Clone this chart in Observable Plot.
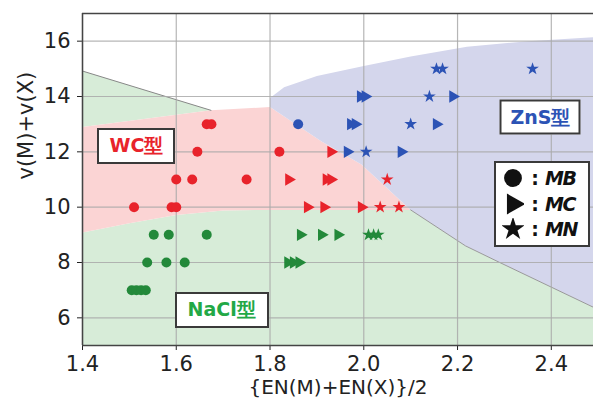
<!DOCTYPE html>
<html><head><meta charset="utf-8">
<script src="https://cdn.jsdelivr.net/npm/d3@7"></script>
<script src="https://cdn.jsdelivr.net/npm/@observablehq/plot@0.6"></script>
<style>
body{margin:0;background:#fff;}
#wrap{position:relative;width:593px;height:409px;overflow:hidden;}
.box{position:absolute;background:#fff;border:2px solid #3a3a3a;font-family:"DejaVu Sans",sans-serif;font-weight:bold;transform:translate(-50%,-50%);display:flex;align-items:center;justify-content:center;box-sizing:border-box;white-space:nowrap;}
.leg{position:absolute;background:#fff;border:2px solid #3a3a3a;box-sizing:border-box;transform:translate(-50%,-50%);font-family:"DejaVu Sans",sans-serif;}
.row{position:absolute;left:0;display:flex;align-items:center;font-size:19px;font-weight:bold;font-style:italic;color:#111;}
</style></head><body><div id="wrap"></div>
<script>
// ---- data: points (EN average, valence sum, anion) per structure type ----
const wcEN    = [1.665,1.675,1.645,1.82,1.60,1.634,1.75,1.51,1.59,1.60, 1.93,1.84,1.92,1.93,1.88,1.915,1.995, 2.05,2.035,2.075];
const wcV     = [13,13,12,12,11,11,11,10,10,10, 12,11,11,11,10,10,10, 11,10,10];
const wcAnion = ["B","B","B","B","B","B","B","B","B","B", "C","C","C","C","C","C","C", "N","N","N"];

const znsEN    = [1.86, 1.993,2.003,2.19,1.972,1.982,2.155,1.965,2.08, 2.14,2.155,2.168,2.36,2.10,2.005];
const znsV     = [13, 14,14,14,13,13,13,12,12, 14,15,15,15,13,12];
const znsAnion = ["B", "C","C","C","C","C","C","C","C", "N","N","N","N","N","N"];

const naclEN    = [1.552,1.584,1.665,1.538,1.579,1.618,1.505,1.515,1.525,1.535, 1.865,1.91,1.945,1.838,1.85,1.862, 2.01,2.021,2.031];
const naclV     = [9,9,9,8,8,8,7,7,7,7, 9,9,9,8,8,8, 9,9,9];
const naclAnion = ["B","B","B","B","B","B","B","B","B","B", "C","C","C","C","C","C", "N","N","N"];

// ---- region boundaries ----
const naclLowEN  = [1.4,1.4,1.5,1.6,1.7,1.8,2.1,2.217,2.29,2.5,2.5];
const naclLowV   = [5,9.08,9.42,9.72,9.88,9.9,9.9,8.6,8.0,6.3,5];
const naclTopEN  = [1.4,1.4,1.674];
const naclTopV   = [12.9,14.92,13.5];
const wcRegEN    = [1.4,1.674,1.8,1.91,1.995,2.1,1.8,1.7,1.6,1.5,1.4];
const wcRegV     = [12.9,13.5,13.62,12.37,11.54,9.9,9.9,9.88,9.72,9.42,9.08];
const znsRegEN   = [1.8,1.8,1.83,1.9,2.0,2.1,2.22,2.35,2.5,2.5,2.29,2.217,2.1,1.995,1.91];
const znsRegV    = [13.62,13.95,14.33,14.74,15.1,15.45,15.8,16.0,16.15,6.3,8.0,8.6,9.9,11.54,12.37];

const xTicks = [1.4,1.6,1.8,2.0,2.2,2.4];
const yTicks = [6,8,10,12,14,16];
const xLabel = "{EN(M)+EN(X)}/2";
const yLabel = "v(M)+v(X)";
const structLabels = ["WC型","ZnS型","NaCl型"];
const structLabelEN = [1.516, 2.378, 1.698];
const structLabelV  = [12.18, 13.23, 6.25];
const legendNames = ["MB","MC","MN"];

const colors = {WC:"#e8232b", ZnS:"#2c53b5", NaCl:"#23893a"};
const fills = {WC:"#fbd4d4", ZnS:"#d4d6ec", NaCl:"#d7ecd8"};
const labelColors = {WC:"#e8232b", ZnS:"#2c53b5", NaCl:"#22a846"};

const pts = [];
wcEN.forEach((x,i)=>pts.push({x, y:wcV[i], a:wcAnion[i], s:"WC"}));
znsEN.forEach((x,i)=>pts.push({x, y:znsV[i], a:znsAnion[i], s:"ZnS"}));
naclEN.forEach((x,i)=>pts.push({x, y:naclV[i], a:naclAnion[i], s:"NaCl"}));
const poly = (xs, ys) => xs.map((x,i)=>({x, y:ys[i]}));

const chart = Plot.plot({
  width: 593, height: 409,
  marginLeft: 82, marginRight: 0, marginTop: 13, marginBottom: 64,
  style: {fontFamily: "DejaVu Sans, sans-serif", fontSize: "21px", color: "#222", background: "#fff"},
  x: {domain: [1.4, 2.49], ticks: xTicks, tickFormat: d3.format(".1f"), label: null, tickSize: 5, tickPadding: 6},
  y: {domain: [5, 17], ticks: yTicks, label: null, tickSize: 5, tickPadding: 7},
  marks: [
    Plot.line(poly(naclLowEN, naclLowV), {x:"x", y:"y", fill: fills.NaCl, stroke: "none", clip: true}),
    Plot.line(poly(naclTopEN, naclTopV), {x:"x", y:"y", fill: fills.NaCl, stroke: "none", clip: true}),
    Plot.line(poly(wcRegEN, wcRegV), {x:"x", y:"y", fill: fills.WC, stroke: "none", clip: true}),
    Plot.line(poly(znsRegEN, znsRegV), {x:"x", y:"y", fill: fills.ZnS, stroke: "none", clip: true}),
    Plot.line(poly(naclTopEN.slice(1), naclTopV.slice(1)), {x:"x", y:"y", stroke: "#888", strokeWidth: 1, clip: true}),
    Plot.line(poly(naclLowEN.slice(6,10), naclLowV.slice(6,10)), {x:"x", y:"y", stroke: "#999", strokeWidth: 1, clip: true}),
    Plot.gridX(xTicks, {stroke: "#a9a9a9", strokeOpacity: 0.85, strokeWidth: 1.2}),
    Plot.gridY(yTicks, {stroke: "#a9a9a9", strokeOpacity: 0.85, strokeWidth: 1.2}),
    Plot.dot(pts.filter(d=>d.a==="B"), {x:"x", y:"y", symbol:"circle", r:5, fill: d=>colors[d.s], stroke:"none"}),
    Plot.dot(pts.filter(d=>d.a==="C"), {x:"x", y:"y", symbol:"triangle", rotate: 90, r:4.6, fill: d=>colors[d.s], stroke:"none"}),
    Plot.dot(pts.filter(d=>d.a==="N"), {x:"x", y:"y", symbol:"star", r:4.0, fill: d=>colors[d.s], stroke:"none"}),
    Plot.ruleX([1.4], {stroke:"#444", strokeWidth: 1.5}),
    Plot.ruleY([5, 17], {stroke:"#444", strokeWidth: 1.5}),
    Plot.text([xLabel], {frameAnchor:"bottom", dy: 48, fontSize: 20, fill:"#222"}),
    Plot.text([yLabel], {frameAnchor:"left", dx: -56, rotate: -90, fontSize: 21, fill:"#222"})
  ]
});
const wrap = document.getElementById("wrap");
wrap.appendChild(chart);
const sx = chart.scale("x"), sy = chart.scale("y");

// structure labels placed via scales
const keys = ["WC","ZnS","NaCl"];
const sizes = [[78,36],[81,35],[94,36]];
structLabels.forEach((t,i)=>{
  const d = document.createElement("div");
  d.className = "box";
  d.textContent = t;
  d.style.left = sx.apply(structLabelEN[i]) + "px";
  d.style.top = sy.apply(structLabelV[i]) + "px";
  d.style.width = sizes[i][0] + "px";
  d.style.height = sizes[i][1] + "px";
  d.style.color = labelColors[keys[i]];
  d.style.fontSize = "19px";
  wrap.appendChild(d);
});

// legend
const leg = document.createElement("div");
leg.className = "leg";
leg.style.left = sx.apply(2.382) + "px";
leg.style.top = sy.apply(10.08) + "px";
leg.style.width = "96px"; leg.style.height = "86px";
const syms = [d3.symbolCircle, d3.symbolTriangle, d3.symbolStar];
const symSize = [250, 190, 170];
const symRot = [0, 90, 0];
legendNames.forEach((n,i)=>{
  const r = document.createElement("div");
  r.className = "row";
  r.style.top = (4 + i*25.5) + "px";
  r.style.left = "6px";
  const p = d3.symbol(syms[i], symSize[i])();
  r.innerHTML = `<svg width="22" height="22" viewBox="-11 -11 22 22"><path d="${p}" transform="rotate(${symRot[i]})" fill="#111"/></svg><span style="font-style:normal;margin:0 6px 0 7px">:</span><span style="letter-spacing:-1.5px">${n}</span>`;
  leg.appendChild(r);
});
wrap.appendChild(leg);
</script></body></html>
